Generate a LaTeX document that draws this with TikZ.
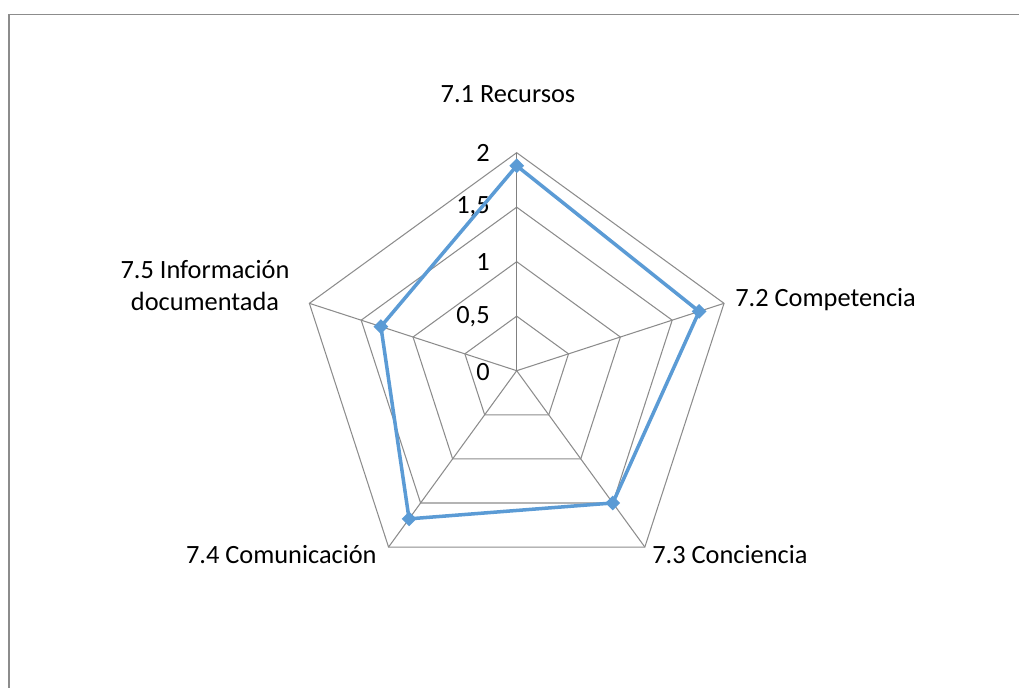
\documentclass[tikz,border=0pt]{standalone}
\usepackage{fontspec}
\setmainfont{Carlito}
\usepackage{xcolor}
\usetikzlibrary{positioning}
\usetikzlibrary{shapes.geometric}

\definecolor{gridgray}{RGB}{140,140,140}
\definecolor{axisgray}{RGB}{128,128,128}
\definecolor{seriesblue}{RGB}{91,155,213}

\tikzset{
  grid/.style={draw=gridgray, line width=0.6pt},
  axisline/.style={draw=axisgray, line width=0.85pt},
  series/.style={draw=seriesblue, line width=2pt, line join=round},
  marker/.style={diamond, fill=seriesblue, inner sep=0pt, minimum size=0.3cm},
  lbl/.style={inner sep=0pt, font=\fontsize{15}{18.2}\selectfont},
}

\begin{document}
\begin{tikzpicture}
  \useasboundingbox (-10.334,-6.326) rectangle (10.046,7.414);

  % chart frame (only top and left edges show)
  \draw[draw=gridgray, line width=0.75pt] (-10.154,-6.4) -- (-10.154,7.124) -- (10.1,7.124);

  \coordinate (O) at (0,0);
  \def\unit{2.18cm}
  \def\angle{360/5}

  % outer vertices
  \path (O) ++(0*\angle+90:2*\unit) coordinate (A1);
  \path (O) ++(4*\angle+90:2*\unit) coordinate (A2);
  \path (O) ++(3*\angle+90:2*\unit) coordinate (A3);
  \path (O) ++(2*\angle+90:2*\unit) coordinate (A4);
  \path (O) ++(1*\angle+90:2*\unit) coordinate (A5);

  % web
  \draw[grid] (90:0.5*\unit) -- (162:0.5*\unit) -- (234:0.5*\unit) -- (306:0.5*\unit) -- (18:0.5*\unit) -- cycle;
  \draw[grid] (90:1.0*\unit) -- (162:1.0*\unit) -- (234:1.0*\unit) -- (306:1.0*\unit) -- (18:1.0*\unit) -- cycle;
  \draw[grid] (90:1.5*\unit) -- (162:1.5*\unit) -- (234:1.5*\unit) -- (306:1.5*\unit) -- (18:1.5*\unit) -- cycle;
  \draw[grid] (A1) -- (A5) -- (A4) -- (A3) -- (A2) -- cycle;

  \draw[grid] (O) -- (A2);
  \draw[grid] (O) -- (A3);
  \draw[grid] (O) -- (A4);
  \draw[grid] (O) -- (A5);
  \draw[axisline] (O) -- (A1);

  % axis values
  \node[lbl, anchor=east] (t0) at (-0.534,-0.03) {0};
  \node[lbl, anchor=east] (t1) at (-0.534,1.09) {0,5};
  \node[lbl, anchor=east] (t2) at (-0.534,2.18) {1};
  \node[lbl, anchor=east] (t3) at (-0.534,3.27) {1,5};
  \node[lbl, anchor=east] (t4) at (-0.534,4.36) {2};

  % data
  \path (O) ++(0*\angle+90:1.88*\unit) coordinate (P1);
  \path (O) ++(4*\angle+90:1.76*\unit) coordinate (P2);
  \path (O) ++(3*\angle+90:1.50*\unit) coordinate (P3);
  \path (O) ++(2*\angle+90:1.68*\unit) coordinate (P4);
  \path (O) ++(1*\angle+90:1.31*\unit) coordinate (P5);

  \draw[series] (P1) -- (P2) -- (P3) -- (P4) -- (P5) -- cycle;

  \node[marker] (m1) at (P1) {};
  \node[marker] (m2) at (P2) {};
  \node[marker] (m3) at (P3) {};
  \node[marker] (m4) at (P4) {};
  \node[marker] (m5) at (P5) {};

  % category labels
  \node[lbl] (l1) at (-0.174,5.534) {7.1 Recursos};
  \node[lbl, anchor=west] (l2) at (4.366,1.414) {7.2 Competencia};
  \node[lbl, anchor=west] (l3) at (2.706,-3.686) {7.3 Conciencia};
  \node[lbl, anchor=east] (l4) at (-2.794,-3.686) {7.4 Comunicación};
  \node[lbl, align=center] (l5) at (-6.234,1.694) {7.5 Información\\documentada};
\end{tikzpicture}
\end{document}
